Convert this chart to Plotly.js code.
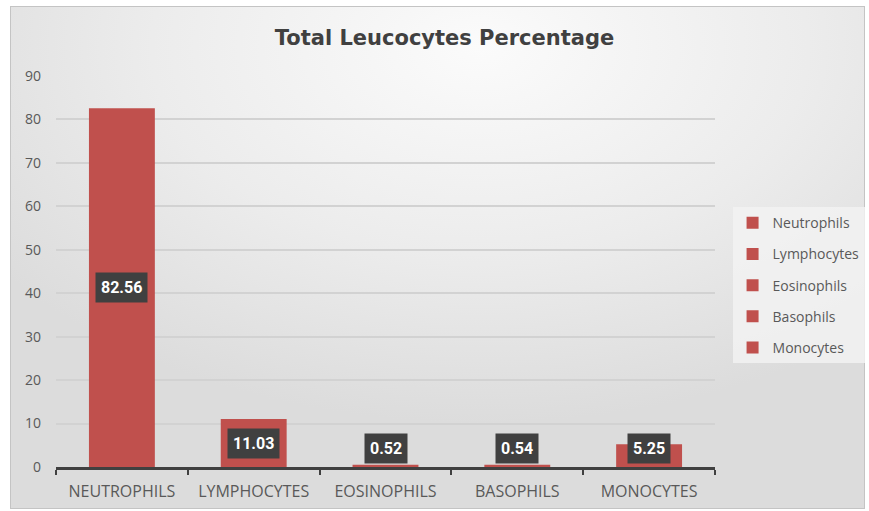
<!DOCTYPE html>
<html>
<head>
<meta charset="utf-8">
<script src="https://cdn.plot.ly/plotly-3.0.1.min.js"></script>
<style>
  html, body { margin: 0; padding: 0; background: #ffffff; }
  #wrap { position: relative; width: 869px; height: 511px; overflow: hidden; }
  #frame { position: absolute; left: 10px; top: 6px; width: 855px; height: 503px;
           border: 1px solid #c4c4c4; box-sizing: border-box;
           background: radial-gradient(ellipse 70% 75% at 55% 8%, #fbfbfb 0%, #ececec 55%, #dcdcdc 100%); }
  #chart { position: absolute; left: 0; top: 0; width: 869px; height: 511px; }
</style>
</head>
<body>
<div id="wrap">
  <div id="frame"></div>
  <div id="chart"></div>
</div>
<script>
const categories = ["NEUTROPHILS", "LYMPHOCYTES", "EOSINOPHILS", "BASOPHILS", "MONOCYTES"];
const seriesNames = ["Neutrophils", "Lymphocytes", "Eosinophils", "Basophils", "Monocytes"];
const values = [82.56, 11.03, 0.52, 0.54, 5.25];
const labels = ["82.56", "11.03", "0.52", "0.54", "5.25"];
const yTicks = [0, 10, 20, 30, 40, 50, 60, 70, 80, 90];

const barColor = "#C0504D";
const traces = categories.map((c, i) => ({
  type: "bar",
  x: [c],
  y: [values[i]],
  name: seriesNames[i],
  legendgroup: "g" + i,
  marker: { color: barColor },
  hoverinfo: "skip"
}));

const annotations = categories.map((c, i) => ({
  x: c,
  y: Math.max(values[i] / 2, 4.2),
  xref: "x", yref: "y",
  text: "<b>" + labels[i] + "</b>",
  showarrow: false,
  bgcolor: "#404040",
  borderpad: 5,
  font: { family: "Roboto, 'DejaVu Sans', sans-serif", size: 16, color: "#ffffff" },
  xanchor: "center", yanchor: "middle"
}));

const layout = {
  width: 869, height: 511,
  paper_bgcolor: "rgba(0,0,0,0)",
  plot_bgcolor: "rgba(0,0,0,0)",
  margin: { l: 56, r: 154, t: 76, b: 44, autoexpand: false },
  barmode: "overlay",
  bargap: 0.5,
  title: {
    text: "<b>Total Leucocytes Percentage</b>",
    font: { family: "'DejaVu Sans', sans-serif", size: 21, color: "#404040" },
    x: 0.5115, xref: "container", xanchor: "center",
    y: 0.926, yref: "container", yanchor: "middle"
  },
  xaxis: {
    type: "category",
    showline: true, linecolor: "#404040", linewidth: 3,
    ticks: "outside", tickson: "boundaries", ticklen: 5, tickwidth: 2, tickcolor: "#404040",
    ticklabelstandoff: 8,
    tickfont: { family: "'Open Sans', sans-serif", size: 16, color: "#595959" },
    showgrid: false
  },
  yaxis: {
    range: [0, 90],
    tickvals: yTicks,
    ticktext: yTicks.map(String),
    showgrid: true, gridcolor: "#d2d2d2", gridwidth: 2,
    zeroline: false, showline: false, ticks: "",
    ticklabelstandoff: 14,
    tickfont: { family: "'Open Sans', sans-serif", size: 14, color: "#595959" }
  },
  showlegend: true,
  legend: {
    xref: "container", yref: "container",
    x: 0.843, xanchor: "left", y: 0.442, yanchor: "middle",
    traceorder: "grouped", tracegroupgap: 10,
    bgcolor: "rgba(242,242,242,0.85)",
    font: { family: "'Open Sans', sans-serif", size: 14, color: "#595959" },
    itemwidth: 30
  },
  annotations: annotations
};

Plotly.newPlot("chart", traces, layout, { displayModeBar: false, staticPlot: true });
</script>
</body>
</html>
